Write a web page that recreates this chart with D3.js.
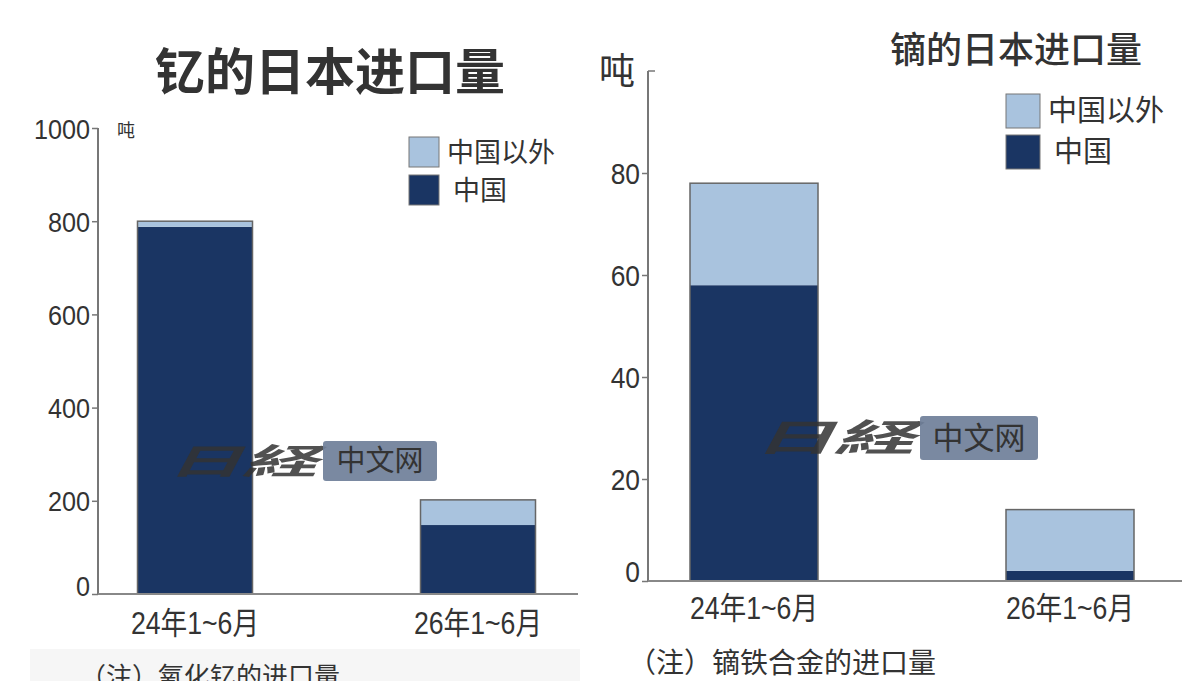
<!DOCTYPE html>
<html><head><meta charset="utf-8">
<script src="https://cdn.jsdelivr.net/npm/d3@7/dist/d3.min.js"></script>
<style>
body{margin:0;background:#fff;}
svg{display:block;}
text{font-family:"Liberation Sans","Noto Sans CJK SC",sans-serif;fill:#333;}
.cjk{font-family:"Noto Sans CJK SC",sans-serif;}
</style></head>
<body>
<svg id="c" width="1200" height="681"></svg>
<script>
// ---- data ----
const categories = ["24年1~6月", "26年1~6月"];
const seriesNames = ["中国", "中国以外"];
// Yttrium (氧化钇) imports, tonnes
const yttriumChina = [788, 148];
const yttriumOther = [12, 54];
const yttriumTicks = [0, 200, 400, 600, 800, 1000];
// Dysprosium (镝铁合金) imports, tonnes
const dyChina = [58, 2];
const dyOther = [20, 12];
const dyTicks = [0, 20, 40, 60, 80];

const colors = {"中国": "#1a3563", "中国以外": "#a9c3de"};
const svg = d3.select("#c");

function condense(sel, ratio) {
  sel.each(function () {
    const len = this.getComputedTextLength();
    d3.select(this).attr("textLength", len * ratio).attr("lengthAdjust", "spacingAndGlyphs");
  });
}

function panel(o) {
  const g = svg.append("g");
  const y = d3.scaleLinear().domain(o.domain).range([o.y0, o.y1]);
  const x = d3.scalePoint().domain(categories).range(o.xc);
  const rows = categories.map((c, i) => ({cat: c, "中国": o.china[i], "中国以外": o.other[i]}));
  const stacked = d3.stack().keys(seriesNames)(rows);
  stacked.forEach(s => {
    g.selectAll(null).data(s).join("rect")
      .attr("x", d => x(d.data.cat) - o.bw / 2)
      .attr("width", o.bw)
      .attr("y", d => y(d[1]))
      .attr("height", d => y(d[0]) - y(d[1]))
      .attr("fill", colors[s.key]);
  });
  g.selectAll(null).data(rows).join("rect")
    .attr("x", d => x(d.cat) - o.bw / 2)
    .attr("width", o.bw)
    .attr("y", d => y(d["中国"] + d["中国以外"]))
    .attr("height", d => y(0) - y(d["中国"] + d["中国以外"]))
    .attr("fill", "none").attr("stroke", "#666").attr("stroke-width", 1.5);
  const ax = g.append("g").attr("transform", `translate(${o.ax},0)`)
    .call(d3.axisLeft(y).tickValues(o.ticks).tickSize(6).tickPadding(2).tickFormat(d3.format("d")));
  ax.select(".domain").attr("stroke", "#777").attr("stroke-width", 2).attr("d", `M0,${y(0)}V${o.axTop}`);
  ax.selectAll(".tick line").attr("stroke", "#777").attr("stroke-width", 1.5);
  ax.selectAll(".tick text").attr("font-size", o.tickFs).attr("fill", "#333")
    .attr("dy", d => d === 0 ? o.zeroDy : "0.36em");
  condense(ax.selectAll(".tick text"), o.tickCond);
  g.append("line").attr("x1", o.ax).attr("x2", o.xEnd).attr("y1", y(0)).attr("y2", y(0))
    .attr("stroke", "#888").attr("stroke-width", 2);
  const xl = g.selectAll(null).data(categories).join("text")
    .attr("x", d => x(d)).attr("y", o.xLabY).attr("text-anchor", "middle")
    .attr("font-size", o.xFs).text(d => d);
  condense(xl, 0.86);
  return {g, y, x};
}

// Left chart
const L = panel({domain: [0, 1000], y0: 594, y1: 128, xc: [195, 478], bw: 115,
  china: yttriumChina, other: yttriumOther, ticks: yttriumTicks, ax: 98, axTop: 128,
  xEnd: 578, tickFs: 28, tickCond: 0.9, zeroDy: "0.05em", xLabY: 634, xFs: 31});
L.g.append("text").attr("x", 117).attr("y", 137).attr("class", "cjk").attr("font-size", 18).attr("fill", "#666").text("吨");
svg.append("text").attr("x", 330).attr("y", 90).attr("text-anchor", "middle").attr("class", "cjk")
  .attr("font-size", 50).attr("font-weight", "bold").attr("fill", "#222").text("钇的日本进口量");

// Right chart
const R = panel({domain: [0, 100], y0: 581, y1: 71, xc: [754, 1070], bw: 128,
  china: dyChina, other: dyOther, ticks: dyTicks, ax: 648, axTop: 71,
  xEnd: 1182, tickFs: 30, tickCond: 0.88, zeroDy: "0.0em", xLabY: 619, xFs: 31});
R.g.append("line").attr("x1", 648).attr("x2", 655).attr("y1", R.y(100)).attr("y2", R.y(100)).attr("stroke", "#777").attr("stroke-width", 1.5);
R.g.append("text").attr("x", 599).attr("y", 84).attr("class", "cjk").attr("font-size", 36).attr("fill", "#444").text("吨");
svg.append("text").attr("x", 1016).attr("y", 63).attr("text-anchor", "middle").attr("class", "cjk")
  .attr("font-size", 36).attr("font-weight", 500).attr("fill", "#333").text("镝的日本进口量");

// legends
function legend(x0, y0, box, gap, fs) {
  const lg = svg.append("g").attr("transform", `translate(${x0},${y0})`);
  const items = ["中国以外", "中国"];
  items.forEach((k, i) => {
    lg.append("rect").attr("x", 0).attr("y", i * gap).attr("width", box).attr("height", box)
      .attr("fill", colors[k]).attr("stroke", "#777").attr("stroke-width", 1);
    lg.append("text").attr("x", box + (i ? 14 : 8)).attr("y", i * gap + box / 2).attr("dy", "0.36em")
      .attr("class", "cjk").attr("font-size", fs).attr("fill", "#444").text(k);
  });
}
legend(409, 137, 30, 38, 27);
legend(1006, 94, 34, 41, 29);

// watermarks
function watermark(x, y, w, h, fs, lw) {
  svg.append("text").attr("x", x - 6 - lw).attr("y", y + h / 2).attr("dy", "0.36em")
    .attr("class", "cjk").attr("font-size", fs + 6).attr("font-weight", "bold").attr("fill", "#3e434d")
    .attr("font-style", "italic").attr("opacity", 0.85)
    .attr("textLength", lw).attr("lengthAdjust", "spacingAndGlyphs").text("日経");
  svg.append("rect").attr("x", x).attr("y", y).attr("width", w).attr("height", h).attr("rx", 3)
    .attr("fill", "#6f7f99").attr("opacity", 0.92);
  svg.append("text").attr("x", x + w / 2).attr("y", y + h / 2).attr("dy", "0.36em").attr("text-anchor", "middle")
    .attr("class", "cjk").attr("font-size", fs).attr("fill", "#eef2f8").text("中文网");
}
watermark(323, 441, 114, 40, 29, 150);
watermark(920, 416, 118, 44, 31, 160);

// notes
svg.append("rect").attr("x", 30).attr("y", 649).attr("width", 550).attr("height", 32).attr("fill", "#f6f6f6");
svg.append("text").attr("x", 80).attr("y", 686).attr("class", "cjk").attr("font-size", 26).attr("fill", "#666").text("（注）氧化钇的进口量");
svg.append("text").attr("x", 628).attr("y", 673).attr("class", "cjk").attr("font-size", 28).attr("fill", "#666").text("（注）镝铁合金的进口量");
</script>
</body></html>
